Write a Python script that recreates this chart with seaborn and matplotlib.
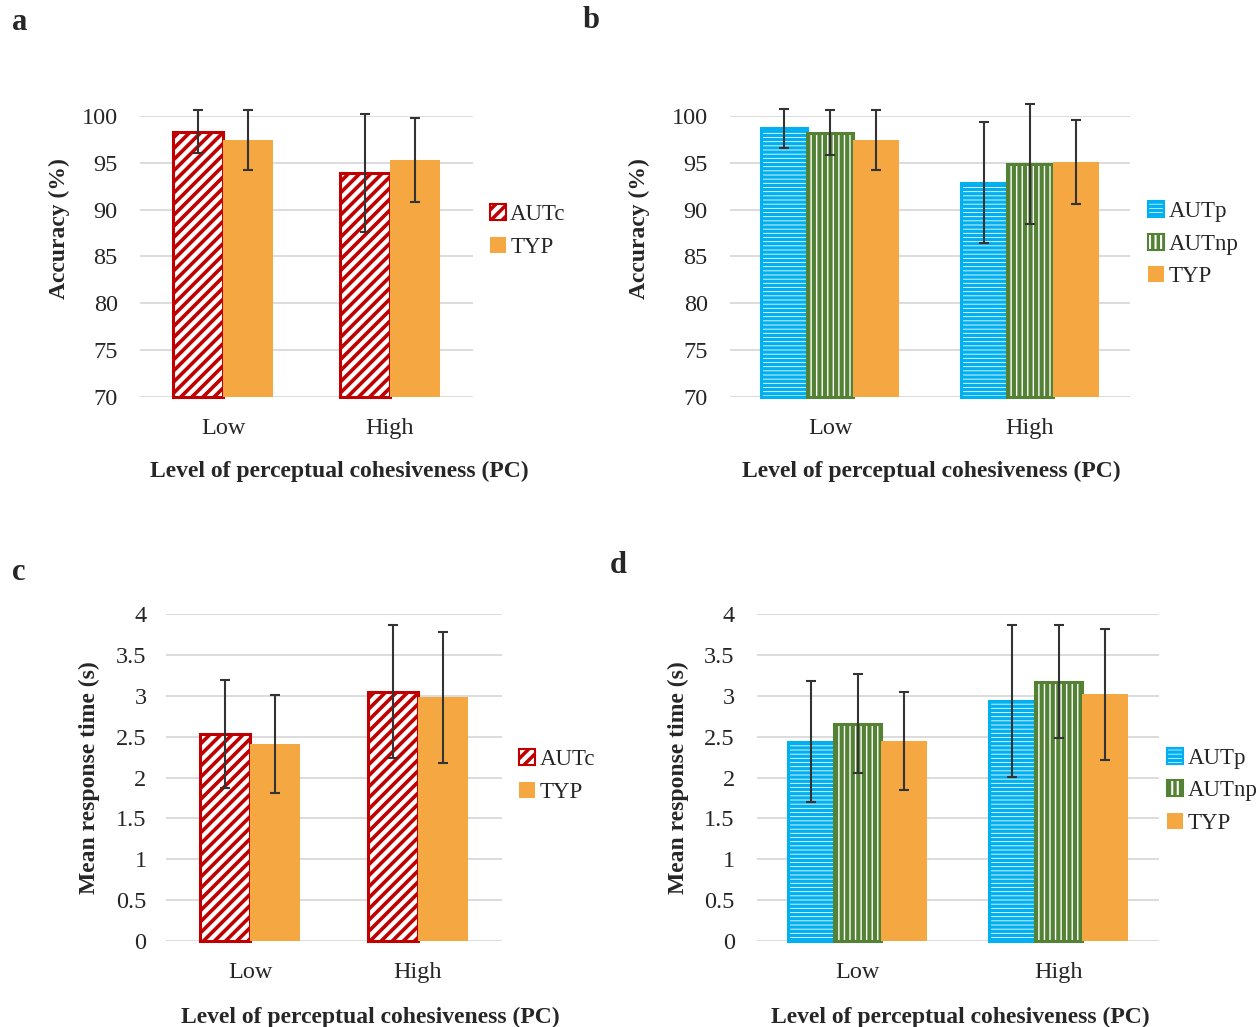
import numpy as np
import pandas as pd
import matplotlib
matplotlib.use('Agg')
import matplotlib.pyplot as plt
from matplotlib.patches import Patch
import seaborn as sns

levels = ['Low', 'High']

# panel a: accuracy, AUTc vs TYP
acc_a_autc = [98.3, 93.9]
acc_a_autc_sd = [2.3, 6.3]
acc_a_typ = [97.4, 95.3]
acc_a_typ_sd = [3.2, 4.5]

# panel b: accuracy, AUTp / AUTnp / TYP
acc_b_autp = [98.7, 92.9]
acc_b_autp_sd = [2.1, 6.45]
acc_b_autnp = [98.2, 94.9]
acc_b_autnp_sd = [2.4, 6.4]
acc_b_typ = [97.4, 95.1]
acc_b_typ_sd = [3.2, 4.5]

# panel c: response time, AUTc vs TYP
rt_c_autc = [2.53, 3.05]
rt_c_autc_sd = [0.66, 0.81]
rt_c_typ = [2.41, 2.98]
rt_c_typ_sd = [0.6, 0.8]

# panel d: response time, AUTp / AUTnp / TYP
rt_d_autp = [2.44, 2.94]
rt_d_autp_sd = [0.74, 0.93]
rt_d_autnp = [2.66, 3.17]
rt_d_autnp_sd = [0.6, 0.69]
rt_d_typ = [2.45, 3.02]
rt_d_typ_sd = [0.6, 0.8]

acc_ticks = [70, 75, 80, 85, 90, 95, 100]
acc_ticklabels = ['70', '75', '80', '85', '90', '95', '100']
rt_ticks = [0, 0.5, 1, 1.5, 2, 2.5, 3, 3.5, 4]
rt_ticklabels = ['0', '0.5', '1', '1.5', '2', '2.5', '3', '3.5', '4']

# look of each group (hatch pattern + hatch line width)
styles = {
    'AUTc': dict(color='#C00000', hatch='///', hlw=2.6),
    'AUTp': dict(color='#00B0F0', hatch='----', hlw=2.4),
    'AUTnp': dict(color='#548235', hatch='|||', hlw=3.0),
    'TYP': dict(color='#F5A742', hatch=None, hlw=1.0),
}

sns.set_style('white')
plt.rcParams['font.family'] = ['Liberation Serif', 'DejaVu Serif']
plt.rcParams['hatch.linewidth'] = 2.5

fig = plt.figure(figsize=(12.6, 10.27), dpi=100)
W, H = 1260, 1027


def add_axes(left, top, right, bottom):
    return fig.add_axes([left / W, 1 - bottom / H, (right - left) / W, (bottom - top) / H])


def style_hatch(p, st):
    p.set_facecolor('white')
    p.set_edgecolor(st['color'])
    p.set_hatch(st['hatch'])
    if hasattr(p, 'set_hatch_linewidth'):
        p.set_hatch_linewidth(st['hlw'])


def legend_handle(g):
    st = styles[g]
    if st['hatch'] is None:
        return Patch(facecolor=st['color'], edgecolor='none', label=g)
    p = Patch(label=g, linewidth=1.5)
    style_hatch(p, st)
    return p


def draw_panel(ax, groups, means, sds, ylim, ticks, ticklabels, width, ylabel,
               ypad, ylab_xy, xlab_xy, leg_x, leg_y):
    rows = []
    for g in groups:
        for lev, v in zip(levels, means[g]):
            rows.append({'level': lev, 'group': g, 'value': v})
    df = pd.DataFrame(rows)
    pal = {g: styles[g]['color'] for g in groups}
    sns.barplot(data=df, x='level', y='value', hue='group', order=levels, hue_order=groups,
                palette=pal, width=width, errorbar=None, legend=False, saturation=1, ax=ax)
    for cont, g in zip(ax.containers, groups):
        st = styles[g]
        for bar, m, s in zip(cont, means[g], sds[g]):
            top = bar.get_y() + bar.get_height()
            bar.set_y(ylim[0])
            bar.set_height(top - ylim[0])
            if st['hatch'] is not None:
                style_hatch(bar, st)
                bar.set_linewidth(2.2)
                bar.set_clip_on(False)
            else:
                bar.set_linewidth(0)
            ax.errorbar(bar.get_x() + bar.get_width() / 2, m, yerr=s, fmt='none',
                        ecolor='#333333', elinewidth=1.5, capsize=3.5, capthick=1.5,
                        zorder=5, clip_on=False)
    ax.set_ylim(*ylim)
    ax.set_xlim(-0.5, 1.5)
    ax.set_yticks(ticks)
    ax.set_yticklabels(ticklabels)
    ax.yaxis.grid(True, color='#d9d9d9', lw=1.3)
    ax.set_axisbelow(True)
    sns.despine(ax=ax, left=True, bottom=True)
    ax.tick_params(axis='y', length=0, pad=ypad, labelsize=17.5)
    ax.tick_params(axis='x', length=0, pad=15, labelsize=17.5)
    ax.set_xlabel('Level of perceptual cohesiveness (PC)', fontsize=17, fontweight='bold')
    ax.set_ylabel(ylabel, fontsize=17, fontweight='bold')
    ax.xaxis.set_label_coords(*xlab_xy)
    ax.yaxis.set_label_coords(*ylab_xy)
    ax.legend(handles=[legend_handle(g) for g in groups], loc='center left',
              bbox_to_anchor=(leg_x, leg_y), frameon=False, fontsize=16.5,
              handlelength=0.7, handleheight=0.7, handletextpad=0.2,
              labelspacing=0.5, borderpad=0, borderaxespad=0)


ax_a = add_axes(140, 116, 473, 397)
draw_panel(ax_a, ['AUTc', 'TYP'],
           {'AUTc': acc_a_autc, 'TYP': acc_a_typ},
           {'AUTc': acc_a_autc_sd, 'TYP': acc_a_typ_sd},
           (70, 100), acc_ticks, acc_ticklabels, 0.6, 'Accuracy (%)',
           16, (-0.21, 0.6), (0.6, -0.228), 1.05, 0.59)

ax_b = add_axes(730, 116, 1130, 397)
draw_panel(ax_b, ['AUTp', 'AUTnp', 'TYP'],
           {'AUTp': acc_b_autp, 'AUTnp': acc_b_autnp, 'TYP': acc_b_typ},
           {'AUTp': acc_b_autp_sd, 'AUTnp': acc_b_autnp_sd, 'TYP': acc_b_typ_sd},
           (70, 100), acc_ticks, acc_ticklabels, 0.69, 'Accuracy (%)',
           16, (-0.2, 0.6), (0.503, -0.228), 1.045, 0.544)

ax_c = add_axes(166, 614, 502, 941)
draw_panel(ax_c, ['AUTc', 'TYP'],
           {'AUTc': rt_c_autc, 'TYP': rt_c_typ},
           {'AUTc': rt_c_autc_sd, 'TYP': rt_c_typ_sd},
           (0, 4), rt_ticks, rt_ticklabels, 0.6, 'Mean response time (s)',
           14, (-0.196, 0.5), (0.607, -0.2), 1.05, 0.505)

ax_d = add_axes(757, 614, 1159, 941)
draw_panel(ax_d, ['AUTp', 'AUTnp', 'TYP'],
           {'AUTp': rt_d_autp, 'AUTnp': rt_d_autnp, 'TYP': rt_d_typ},
           {'AUTp': rt_d_autp_sd, 'AUTnp': rt_d_autnp_sd, 'TYP': rt_d_typ_sd},
           (0, 4), rt_ticks, rt_ticklabels, 0.69, 'Mean response time (s)',
           16, (-0.17, 0.5), (0.505, -0.2), 1.02, 0.46)

# panel letters
for lab, x, y in [('a', 12, 8), ('b', 583, 6), ('c', 12, 558), ('d', 610, 551)]:
    fig.text(x / W, 1 - y / H, lab, fontsize=22, fontweight='bold', ha='left', va='top')

fig.savefig('out.png', dpi=100)
